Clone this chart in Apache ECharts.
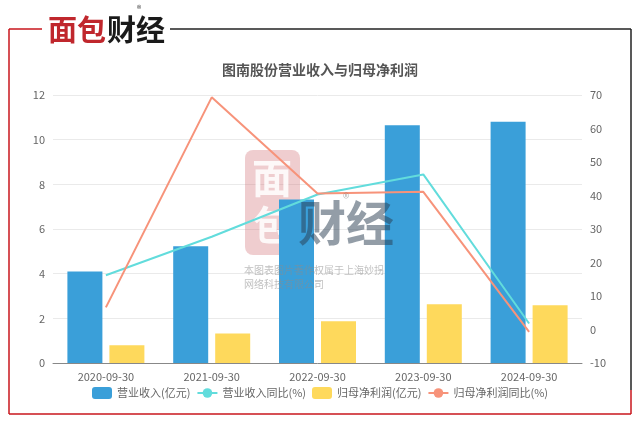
<!DOCTYPE html>
<html>
<head>
<meta charset="utf-8">
<script src="https://cdn.jsdelivr.net/npm/echarts@6/dist/echarts.min.js"></script>
<style>
  html, body { margin: 0; padding: 0; background: #fff; }
  #chart { width: 640px; height: 424px; }
</style>
</head>
<body>
<div id="chart"></div>
<script>
var categories = ['2020-09-30', '2021-09-30', '2022-09-30', '2023-09-30', '2024-09-30'];
var revenue = [4.10, 5.23, 7.32, 10.65, 10.80];
var revenueYoy = [16.2, 27.7, 40.3, 46.3, 1.8];
var netProfit = [0.79, 1.32, 1.87, 2.63, 2.59];
var netProfitYoy = [6.6, 69.3, 40.6, 41.1, -0.7];
var seriesNames = ['营业收入(亿元)', '营业收入同比(%)', '归母净利润(亿元)', '归母净利润同比(%)'];

var font = '"Noto Sans CJK SC", "Microsoft YaHei", sans-serif';
var chart = echarts.init(document.getElementById('chart'), null, { renderer: 'canvas' });

var option = {
    backgroundColor: '#fff',
    textStyle: { fontFamily: font },
    title: {
        text: '图南股份营业收入与归母净利润',
        left: 'center',
        top: 58,
        textStyle: { fontSize: 14, fontWeight: 'bold', color: '#555', fontFamily: font }
    },
    legend: {
        bottom: 20,
        itemWidth: 20,
        itemHeight: 12,
        itemGap: 6,
        textStyle: { color: '#666', fontSize: 11 },
        data: seriesNames
    },
    grid: { left: 53, right: 58, top: 95, bottom: 61 },
    xAxis: {
        type: 'category',
        data: categories,
        axisLine: { lineStyle: { color: '#888' } },
        axisTick: { lineStyle: { color: '#888' } },
        axisLabel: { color: '#666', fontSize: 11, margin: 8 }
    },
    yAxis: [{
        type: 'value',
        min: 0, max: 12, interval: 2,
        axisLine: { show: false },
        axisTick: { show: false },
        axisLabel: { color: '#666', fontSize: 11 },
        splitLine: { lineStyle: { color: '#eaeaea' } }
    }, {
        type: 'value',
        min: -10, max: 70, interval: 10,
        axisLine: { show: false },
        axisTick: { show: false },
        axisLabel: { color: '#666', fontSize: 11 },
        splitLine: { show: false }
    }],
    series: [{
        name: seriesNames[0],
        type: 'bar',
        data: revenue,
        barWidth: 35,
        barGap: '20%',
        itemStyle: { color: '#3a9fd9' }
    }, {
        name: seriesNames[1],
        type: 'line',
        yAxisIndex: 1,
        data: revenueYoy,
        symbol: 'circle',
        showSymbol: false,
        lineStyle: { width: 2, color: '#62dcdc' },
        itemStyle: { color: '#62dcdc' }
    }, {
        name: seriesNames[2],
        type: 'bar',
        data: netProfit,
        barWidth: 35,
        barGap: '20%',
        itemStyle: { color: '#fed95c' }
    }, {
        name: seriesNames[3],
        type: 'line',
        yAxisIndex: 1,
        data: netProfitYoy,
        symbol: 'circle',
        showSymbol: false,
        lineStyle: { width: 2, color: '#f7937a' },
        itemStyle: { color: '#f7937a' }
    }],
    graphic: [
        // frame
        { type: 'line', z: 100, shape: { x1: 9, y1: 29, x2: 9, y2: 414 }, style: { stroke: '#c8161d', lineWidth: 1.5 } },
        { type: 'line', z: 100, shape: { x1: 9, y1: 29, x2: 42, y2: 29 }, style: { stroke: '#c8161d', lineWidth: 1.5 } },
        { type: 'line', z: 100, shape: { x1: 9, y1: 414, x2: 631, y2: 414 }, style: { stroke: '#c8161d', lineWidth: 1.5 } },
        { type: 'line', z: 100, shape: { x1: 170, y1: 29, x2: 631, y2: 29 }, style: { stroke: '#222', lineWidth: 1.5 } },
        { type: 'line', z: 100, shape: { x1: 631, y1: 29, x2: 631, y2: 390 }, style: { stroke: '#222', lineWidth: 1.5 } },
        { type: 'line', z: 100, shape: { x1: 631, y1: 390, x2: 631, y2: 414 }, style: { stroke: '#c8161d', lineWidth: 1.5 } },
        // logo
        { type: 'text', z: 100, left: 48, top: 15, style: { text: '面包', fill: '#c0272d', font: 'bold 29px ' + font } },
        { type: 'text', z: 100, left: 107, top: 15, style: { text: '财经', fill: '#1a1a1a', font: 'bold 29px ' + font } },
        { type: 'text', z: 100, left: 137, top: 4, style: { text: '®', fill: '#333', font: '9px ' + font } },
        // watermark
        { type: 'rect', z: 1, shape: { x: 245, y: 150, width: 55, height: 105, r: 8 }, style: { fill: 'rgba(205,100,105,0.32)' } },
        { type: 'text', z: 1, left: 252, top: 158, style: { text: '面', fill: 'rgba(255,255,255,0.85)', font: 'bold 40px ' + font } },
        { type: 'text', z: 1, left: 252, top: 205, style: { text: '包', fill: 'rgba(255,255,255,0.85)', font: 'bold 40px ' + font } },
        { type: 'text', z: 10, left: 298, top: 199, style: { text: '财经', fill: 'rgba(40,60,80,0.5)', font: 'bold 48px ' + font } },
        { type: 'text', z: 10, left: 343, top: 192, style: { text: '®', fill: 'rgba(120,120,120,0.5)', font: '13px ' + font } },
        { type: 'text', z: 10, left: 244, top: 263, style: { text: '本图表图片著作权属于上海妙拐\n网络科技有限公司', fill: 'rgba(140,140,140,0.55)', font: '10px ' + font, lineHeight: 14 } }
    ]
};

chart.setOption(option);
</script>
</body>
</html>
